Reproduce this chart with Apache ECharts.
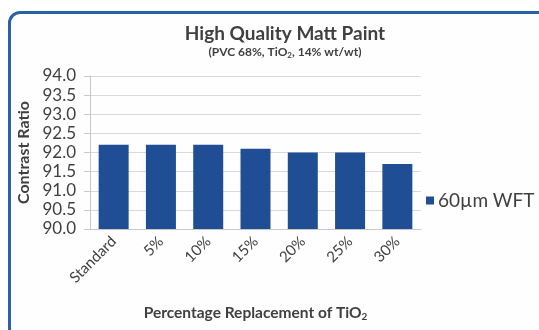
<!DOCTYPE html>
<html>
<head>
<meta charset="utf-8">
<script src="https://cdn.jsdelivr.net/npm/echarts@6/dist/echarts.min.js"></script>
<style>
  html, body { margin: 0; padding: 0; background: #ffffff; }
  #frame { position: absolute; left: 8px; top: 11px; width: 560px; height: 330px;
           border: 3px solid #2a62a6; border-radius: 12px; box-sizing: border-box; background: #fefefe; }
  #chart { position: absolute; left: 0; top: 0; width: 539px; height: 330px; }
</style>
</head>
<body>
<div id="frame"></div>
<div id="chart"></div>
<script>
const categories = ['Standard', '5%', '10%', '15%', '20%', '25%', '30%'];
const wft60 = [92.2, 92.2, 92.2, 92.1, 92.0, 92.0, 91.7];
const seriesName = '60µm WFT';
const yMin = 90.0, yMax = 94.0, yStep = 0.5;

const FONT = 'Lato, "Open Sans", sans-serif';
const TXT = '#404040';

const chart = echarts.init(document.getElementById('chart'), null, { renderer: 'canvas' });
chart.setOption({
  backgroundColor: 'transparent',
  animation: false,
  title: {
    text: 'High Quality Matt Paint',
    subtext: '{n|(PVC 68%, TiO}{s|2}{n|, 14% wt/wt)}',
    left: 280, textAlign: 'center', top: 19, itemGap: 2,
    textStyle: { fontFamily: FONT, fontSize: 19, fontWeight: 'bold', color: TXT },
    subtextStyle: {
      fontFamily: FONT, fontSize: 12, fontWeight: 'bold', color: TXT,
      rich: {
        n: { fontFamily: FONT, fontSize: 12, fontWeight: 'bold', color: TXT, lineHeight: 14 },
        s: { fontFamily: FONT, fontSize: 8, fontWeight: 'bold', color: TXT, lineHeight: 14, verticalAlign: 'bottom', padding: [5, 0, 0, 0] }
      }
    }
  },
  legend: {
    left: 421, top: 186, itemWidth: 8, itemHeight: 8, icon: 'rect', itemGap: 4,
    textStyle: { fontFamily: FONT, fontSize: 19, color: TXT, padding: [0, 0, 0, -1] },
    data: [seriesName]
  },
  grid: { left: 90, right: 118, top: 76, bottom: 101, containLabel: false },
  xAxis: {
    type: 'category', data: categories,
    name: '{n|Percentage Replacement of TiO}{s|2}',
    nameLocation: 'middle', nameGap: 75,
    nameTextStyle: {
      rich: {
        n: { fontFamily: FONT, fontSize: 15.5, fontWeight: 'bold', color: TXT, lineHeight: 18 },
        s: { fontFamily: FONT, fontSize: 10, fontWeight: 'bold', color: TXT, lineHeight: 18, verticalAlign: 'bottom', padding: [6, 0, 0, 0] }
      }
    },
    axisLine: { show: true, lineStyle: { color: '#c8c8c8' } },
    axisTick: { show: false },
    axisLabel: { rotate: 45, fontFamily: FONT, fontSize: 15, color: TXT, margin: 10, interval: 0 }
  },
  yAxis: {
    type: 'value', min: yMin, max: yMax, interval: yStep,
    name: 'Contrast Ratio', nameLocation: 'middle', nameGap: 51,
    nameTextStyle: { fontFamily: FONT, fontSize: 16, fontWeight: 'bold', color: TXT },
    axisLine: { show: true, lineStyle: { color: '#c8c8c8' } },
    axisTick: { show: true, length: 6, lineStyle: { color: '#c8c8c8' } },
    axisLabel: { fontFamily: FONT, fontSize: 17, color: TXT, margin: 14, formatter: v => v.toFixed(1) },
    splitLine: { show: true, lineStyle: { color: '#d9d9d9' } }
  },
  series: [{
    name: seriesName, type: 'bar', data: wft60,
    barWidth: 30,
    itemStyle: { color: '#1f4e94' }
  }]
});
</script>
</body>
</html>
